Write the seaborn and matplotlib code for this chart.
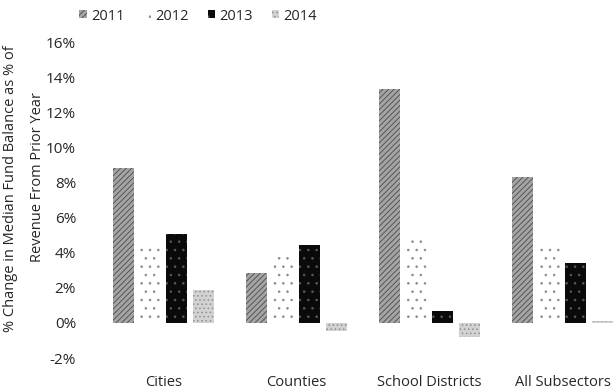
import seaborn as sns
from matplotlib import pyplot as plt
import pandas as pd

sectors = ['Cities', 'Counties', 'School Districts', 'All Subsectors']
years = ['2011', '2012', '2013', '2014']
v2011 = [8.8, 2.85, 13.3, 8.3]
v2012 = [4.4, 3.8, 4.9, 4.3]
v2013 = [5.05, 4.45, 0.7, 3.4]
v2014 = [1.9, -0.45, -0.8, 0.1]
yticks = [-2, 0, 2, 4, 6, 8, 10, 12, 14, 16]


def plot_balance():
    rows = []
    for yr, vals in zip(years, [v2011, v2012, v2013, v2014]):
        for s, v in zip(sectors, vals):
            rows.append({'sector': s, 'year': yr, 'value': v})
    df = pd.DataFrame(rows)

    sns.set_style('white')
    plt.rcParams['font.family'] = ['Open Sans', 'DejaVu Sans']
    plt.rcParams['hatch.linewidth'] = 0.6

    fig = plt.figure(figsize=(6.16, 3.92), dpi=100)
    ax = fig.add_axes([90 / 616, 34 / 392, 526 / 616, 316 / 392])

    faces = ['#a4a4a4', '#ffffff', '#0a0a0a', '#d2d2d2']
    hatch_cols = ['#4a4a4a', '#8a8a8a', '#5a5a5a', '#8f8f8f']
    hatches = ['//////', '..', '..', '....']
    sns.barplot(data=df, x='sector', y='value', hue='year', order=sectors,
                hue_order=years, palette=faces, saturation=1, gap=0.2,
                legend=False, ax=ax)
    for cont, h, hc in zip(ax.containers, hatches, hatch_cols):
        for p in cont.patches:
            p.set_hatch(h)
            p.set_edgecolor(hc)
            p.set_linewidth(0)

    ax.set_xlim((90 - 163.5) / 133, (616 - 163.5) / 133)
    ax.set_ylim(-2, 16)
    ax.set_yticks(yticks)
    ax.set_yticklabels([f'{t}%' for t in yticks], fontsize=11)
    ax.tick_params(axis='x', length=0, pad=12, labelsize=10.5)
    ax.tick_params(axis='y', length=0, pad=10)
    ax.set_xlabel('')
    ax.set_ylabel('')
    for sp in ax.spines.values():
        sp.set_visible(False)

    fig.text(11 / 616, 1 - 189 / 392,
             '% Change in Median Fund Balance as % of',
             rotation=90, ha='center', va='center', fontsize=10.5)
    fig.text(38 / 616, 1 - 177 / 392, 'Revenue From Prior Year',
             rotation=90, ha='center', va='center', fontsize=10.5)

    fig.legend(ax.containers, years, loc='center left',
               bbox_to_anchor=(72 / 616, 1 - 16 / 392), ncol=4, frameon=False,
               fontsize=10.5, handlelength=0.5, handleheight=0.5,
               handletextpad=0.3, columnspacing=1.3, borderpad=0)

    fig.savefig('out.png', dpi=100)


if __name__ == '__main__':
    plot_balance()
